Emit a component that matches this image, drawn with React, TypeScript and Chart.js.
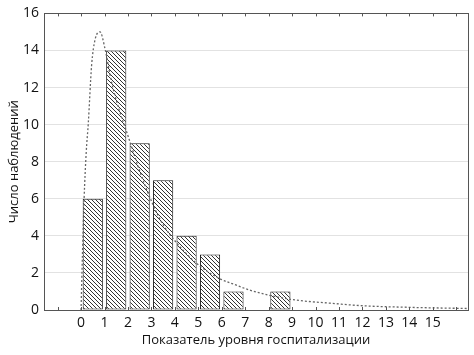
import React, { useEffect, useRef } from 'react';
import { Chart, registerables } from 'chart.js';

Chart.register(...registerables);

// Histogram bins (left edges) and observation counts
const binStarts = [0, 1, 2, 3, 4, 5, 6, 7, 8];
const counts = [6, 14, 9, 7, 4, 3, 1, 0, 1];

// Fitted density curve
const curveX = [0, 0.06, 0.13, 0.22, 0.31, 0.45, 0.6, 0.81, 1.02, 1.3, 1.6, 2.0, 2.5, 3.06, 3.5, 4.09, 4.94, 5.9, 6.6, 7.2, 8.0, 9.2, 10.6, 12.0, 14.1, 16.5];
const curveY = [0, 3.0, 6.0, 8.5, 10.1, 13.2, 14.6, 15.0, 14.1, 12.3, 10.9, 9.4, 7.5, 5.7, 4.6, 3.6, 2.5, 1.7, 1.35, 1.07, 0.8, 0.53, 0.37, 0.23, 0.14, 0.08];

const xTickLabels = [0, 1, 2, 3, 4, 5, 6, 7, 8, 9, 10, 11, 12, 13, 14, 15];
const frameTicks = [-1, 0, 1, 2, 3, 4, 5, 6, 7, 8, 9, 10, 11, 12, 13, 14, 15, 16];
const xMin = -1.58;
const xMax = 16.5;
const yMin = 0;
const yMax = 16;
const yStep = 2;

const xTitle = 'Показатель уровня госпитализации';
const yTitle = 'Число наблюдений';

const FONT = '"Open Sans", "Noto Sans", sans-serif';

function makeHatch(): CanvasPattern | string {
  const s = 4;
  const c = document.createElement('canvas');
  c.width = s;
  c.height = s;
  const g = c.getContext('2d');
  if (!g) return '#fff';
  g.fillStyle = '#ffffff';
  g.fillRect(0, 0, s, s);
  g.fillStyle = '#333333';
  for (let i = 0; i < s; i++) g.fillRect(i, i, 1, 1);
  const p = g.createPattern(c, 'repeat');
  return p || '#fff';
}

const framePlugin = {
  id: 'frame',
  afterDatasetsDraw(chart: any) {
    const { ctx, chartArea } = chart;
    const xs = chart.scales.x;
    ctx.save();
    ctx.strokeStyle = '#555';
    ctx.lineWidth = 1;
    ctx.beginPath();
    for (const v of frameTicks) {
      const px = Math.round(xs.getPixelForValue(v)) + 0.5;
      ctx.moveTo(px, chartArea.top);
      ctx.lineTo(px, chartArea.top + 3);
      ctx.moveTo(px, chartArea.bottom);
      ctx.lineTo(px, chartArea.bottom - 3);
    }
    ctx.stroke();
    ctx.strokeRect(
      Math.round(chartArea.left) + 0.5,
      Math.round(chartArea.top) + 0.5,
      Math.round(chartArea.right - chartArea.left),
      Math.round(chartArea.bottom - chartArea.top)
    );
    ctx.restore();
  },
};

export default function App() {
  const ref = useRef<HTMLCanvasElement | null>(null);

  useEffect(() => {
    if (!ref.current) return;
    const hatch = makeHatch();
    const barData = binStarts.map((b, i) => ({ x: b + 0.5, y: counts[i] }));
    const curveData = curveX.map((x, i) => ({ x, y: curveY[i] }));

    const chart = new Chart(ref.current, {
      type: 'bar',
      data: {
        datasets: [
          {
            type: 'line',
            data: curveData,
            borderColor: '#666',
            borderWidth: 1.3,
            borderDash: [2, 2],
            pointRadius: 0,
            fill: false,
            cubicInterpolationMode: 'monotone',
            order: 0,
          } as any,
          {
            type: 'bar',
            data: barData,
            backgroundColor: hatch as any,
            borderColor: '#1a1a1a',
            borderWidth: 1,
            borderSkipped: false,
            barPercentage: 0.86,
            categoryPercentage: 1,
            order: 1,
          } as any,
        ],
      },
      options: {
        responsive: false,
        animation: false,
        layout: { padding: { top: 10, right: 6, left: 0, bottom: 0 } },
        plugins: {
          legend: { display: false },
          tooltip: { enabled: false },
        },
        scales: {
          x: {
            type: 'linear',
            offset: false,
            min: xMin,
            max: xMax,
            afterBuildTicks: (axis: any) => {
              axis.ticks = xTickLabels.map((v) => ({ value: v }));
            },
            afterFit: (axis: any) => {
              axis.height = 45;
            },
            grid: { display: false, drawTicks: false, offset: false },
            border: { display: false },
            ticks: {
              autoSkip: false,
              maxRotation: 0,
              padding: 5,
              color: '#111',
              font: { family: FONT, size: 14 },
              callback: (v: any) => String(v),
            },
            title: {
              display: true,
              text: xTitle,
              color: '#111',
              font: { family: FONT, size: 13 },
              padding: { top: 0, bottom: 7 },
            },
          },
          y: {
            min: yMin,
            max: yMax,
            afterFit: (axis: any) => {
              axis.width = 44;
            },
            grid: { color: '#e2e2e2', drawTicks: false },
            border: { display: false },
            ticks: {
              stepSize: yStep,
              padding: 5,
              color: '#111',
              font: { family: FONT, size: 14 },
            },
            title: {
              display: true,
              text: yTitle,
              color: '#111',
              font: { family: FONT, size: 13 },
              padding: { top: 6, bottom: 0 },
            },
          },
        },
      } as any,
      plugins: [framePlugin],
    });
    return () => chart.destroy();
  }, []);

  return (
    <div style={{ position: 'absolute', left: 0, top: 0, width: 474, height: 355, background: '#fff' }}>
      <canvas ref={ref} width={474} height={355} style={{ display: 'block' }} />
    </div>
  );
}
